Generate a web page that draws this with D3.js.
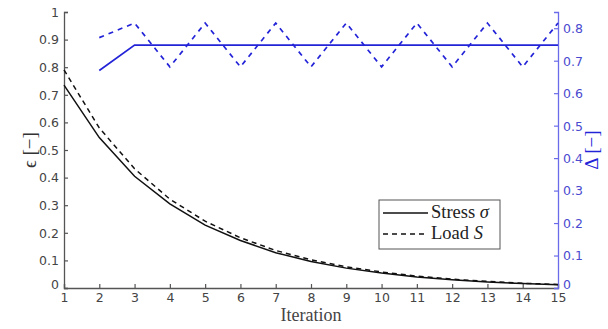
<!DOCTYPE html>
<html>
<head>
<meta charset="utf-8">
<script src="https://cdn.jsdelivr.net/npm/d3@7"></script>
<style>
  html, body { margin: 0; padding: 0; background: #fff; }
  svg { display: block; }
  .tick text { font-family: "DejaVu Sans", sans-serif; }
</style>
</head>
<body>
<div id="chart"></div>
<script>
// Iterations on the x axis
const iterations = [1, 2, 3, 4, 5, 6, 7, 8, 9, 10, 11, 12, 13, 14, 15];

// Error ε (left axis)
const stress = [0.735, 0.545, 0.405, 0.305, 0.228, 0.172, 0.128, 0.096, 0.072, 0.054, 0.040, 0.030, 0.022, 0.016, 0.012];
const load   = [0.790, 0.580, 0.432, 0.322, 0.242, 0.182, 0.136, 0.102, 0.077, 0.058, 0.043, 0.032, 0.024, 0.017, 0.013];

// Δ (right axis), starting from iteration 2
const deltaIter  = [2, 3, 4, 5, 6, 7, 8, 9, 10, 11, 12, 13, 14, 15];
const deltaSolid = [0.670, 0.748, 0.748, 0.748, 0.748, 0.748, 0.748, 0.748, 0.748, 0.748, 0.748, 0.748, 0.748, 0.748];
const deltaDash  = [0.771, 0.816, 0.681, 0.816, 0.681, 0.816, 0.681, 0.816, 0.681, 0.816, 0.681, 0.816, 0.681, 0.816];

const leftTicks  = [0, 0.1, 0.2, 0.3, 0.4, 0.5, 0.6, 0.7, 0.8, 0.9, 1];
const rightTicks = [0, 0.1, 0.2, 0.3, 0.4, 0.5, 0.6, 0.7, 0.8];
const legendLabels = ["Stress", "Load"];

const W = 608, H = 329;
const m = { left: 64, right: 50, top: 12, bottom: 41 };
const svg = d3.select("#chart").append("svg").attr("width", W).attr("height", H);

const x = d3.scaleLinear().domain([1, 15]).range([m.left, W - m.right]);
const yL = d3.scaleLinear().domain([0, 1]).range([H - m.bottom, m.top]);
const yR = d3.scaleLinear().domain([0, 0.85]).range([H - m.bottom, m.top]);

const grey = "#555";
const axisBlue = "#6b6bea";
const lineBlue = "#2323d8";
const serif = "'Liberation Serif', 'DejaVu Serif', serif";

// Left axis
const gL = svg.append("g").attr("transform", `translate(${m.left},0)`)
  .call(d3.axisLeft(yL).tickValues(leftTicks).tickSize(-4).tickPadding(5).tickFormat(d3.format("")));
gL.select(".domain").attr("stroke", grey).attr("stroke-width", 1.3);
gL.selectAll(".tick line").attr("stroke", grey).attr("stroke-width", 1.2);
gL.selectAll(".tick text").attr("fill", "#444").attr("font-size", 12.5).attr("dy", "0.35em");
// lift the corner "0" so it clears the first x label
gL.selectAll(".tick text").filter(d => d === 0).attr("dy", "0.05em");

// Bottom axis
const gB = svg.append("g").attr("transform", `translate(0,${H - m.bottom})`)
  .call(d3.axisBottom(x).tickValues(iterations).tickSize(-4).tickPadding(5).tickFormat(d3.format("d")));
gB.select(".domain").attr("stroke", grey).attr("stroke-width", 1.3);
gB.selectAll(".tick line").attr("stroke", grey).attr("stroke-width", 1.2);
gB.selectAll(".tick text").attr("fill", "#444").attr("font-size", 12.5);

// Right axis
const gR = svg.append("g").attr("transform", `translate(${W - m.right},0)`)
  .call(d3.axisRight(yR).tickValues(rightTicks).tickSize(-4).tickPadding(5).tickFormat(d3.format("")));
gR.select(".domain").attr("stroke", axisBlue).attr("stroke-width", 1.3);
gR.selectAll(".tick line").attr("stroke", axisBlue).attr("stroke-width", 1.2);
gR.selectAll(".tick text").attr("fill", "#4a4ad0").attr("font-size", 12.5).attr("dy", "0.35em");
// lift the corner "0" so it clears the last x label
gR.selectAll(".tick text").filter(d => d === 0).attr("dy", "0.05em");

// Axis titles
svg.append("text").attr("x", x(8)).attr("y", H - 8).attr("text-anchor", "middle")
  .attr("font-family", serif).attr("font-size", 18).attr("fill", "#444").text("Iteration");

svg.append("text").attr("transform", `translate(36,${yL(0.5)}) rotate(-90)`).attr("text-anchor", "middle")
  .attr("font-family", serif).attr("font-size", 19).attr("fill", "#333").text("ϵ [−]");

svg.append("text").attr("transform", `translate(${W - 10},${yL(0.5)}) rotate(-90)`).attr("text-anchor", "middle")
  .attr("font-family", serif).attr("font-size", 19).attr("fill", lineBlue).text("Δ [−]");

// Lines
const lineL = d3.line().x((d, i) => x(iterations[i])).y(d => yL(d));
const lineR = d3.line().x((d, i) => x(deltaIter[i])).y(d => yR(d));

svg.append("path").attr("d", lineL(stress)).attr("fill", "none").attr("stroke", "#111").attr("stroke-width", 1.5);
svg.append("path").attr("d", lineL(load)).attr("fill", "none").attr("stroke", "#111").attr("stroke-width", 1.5).attr("stroke-dasharray", "5,4");
svg.append("path").attr("d", lineR(deltaSolid)).attr("fill", "none").attr("stroke", lineBlue).attr("stroke-width", 1.7);
svg.append("path").attr("d", lineR(deltaDash)).attr("fill", "none").attr("stroke", lineBlue).attr("stroke-width", 1.7).attr("stroke-dasharray", "5,5");

// Legend
const lg = svg.append("g").attr("transform", "translate(379,200)");
lg.append("rect").attr("width", 121).attr("height", 49).attr("fill", "#fff").attr("stroke", "#555").attr("stroke-width", 1);
const entries = [
  { label: legendLabels[0], sym: "σ", dash: null, y: 13 },
  { label: legendLabels[1], sym: "S", dash: "5,4", y: 34 }
];
entries.forEach(e => {
  lg.append("line").attr("x1", 4).attr("x2", 49).attr("y1", e.y).attr("y2", e.y)
    .attr("stroke", "#111").attr("stroke-width", 1.5).attr("stroke-dasharray", e.dash);
  const t = lg.append("text").attr("x", 52).attr("y", e.y + 5)
    .attr("font-family", serif).attr("font-size", 18.5).attr("fill", "#222");
  t.append("tspan").text(e.label + " ");
  t.append("tspan").attr("font-style", "italic").text(e.sym);
});
</script>
</body>
</html>
